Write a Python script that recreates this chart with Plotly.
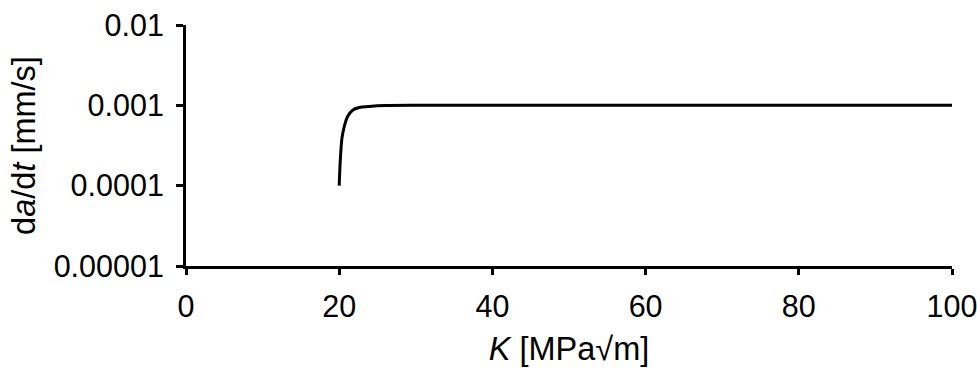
import plotly.graph_objects as go

# Data
K_vals = [20.0, 20.13, 20.35, 20.65, 21.08, 21.74, 22.6, 23.9, 26.1, 30.0, 40.0, 60.0, 80.0, 100.0]
dadt_vals = [1.0e-4, 1.98e-4, 3.85e-4, 5.4e-4, 7.2e-4, 8.7e-4, 9.4e-4, 9.7e-4, 9.95e-4, 1.0e-3, 1.0e-3, 1.0e-3, 1.0e-3, 1.0e-3]

x_ticks = [0, 20, 40, 60, 80, 100]
y_tickvals = [1e-5, 1e-4, 1e-3, 1e-2]
y_ticktext = ["0.00001", "0.0001", "0.001", "0.01"]

font_family = "Liberation Sans, Arial, sans-serif"
tick_size = 30.5
title_size = 32.5

fig = go.Figure()
fig.add_trace(go.Scatter(
    x=K_vals, y=dadt_vals, mode="lines",
    line=dict(color="black", width=3, shape="spline", smoothing=0.6),
    showlegend=False, hoverinfo="skip",
))

fig.update_layout(
    width=977, height=368,
    margin=dict(l=186, r=25, t=25, b=102, autoexpand=False),
    paper_bgcolor="white", plot_bgcolor="white",
    font=dict(family=font_family, size=tick_size, color="black"),
)

fig.update_xaxes(
    range=[0, 100], tickvals=x_ticks,
    showgrid=False, zeroline=False, automargin=False,
    showline=True, linecolor="black", linewidth=3,
    ticks="outside", ticklen=6, tickwidth=3, tickcolor="black",
    ticklabelstandoff=5, ticklabeloverflow="allow",
    tickfont=dict(size=tick_size, family=font_family, color="black"),
    title=dict(text="<i>K</i> [MPa√m]", font=dict(size=title_size, family=font_family), standoff=16),
)
fig.update_yaxes(
    type="log", range=[-5, -2],
    tickvals=y_tickvals, ticktext=y_ticktext,
    showgrid=False, zeroline=False, automargin=False,
    showline=True, linecolor="black", linewidth=3,
    ticks="outside", ticklen=7, tickwidth=3, tickcolor="black",
    ticklabelstandoff=6, ticklabeloverflow="allow",
    tickfont=dict(size=tick_size, family=font_family, color="black"),
    title=dict(text="d<i>a</i>/d<i>t</i> [mm/s]", font=dict(size=title_size, family=font_family), standoff=9),
)

fig.write_html("out.html", config={"displayModeBar": False},
               post_script="document.body.style.margin='0';")
